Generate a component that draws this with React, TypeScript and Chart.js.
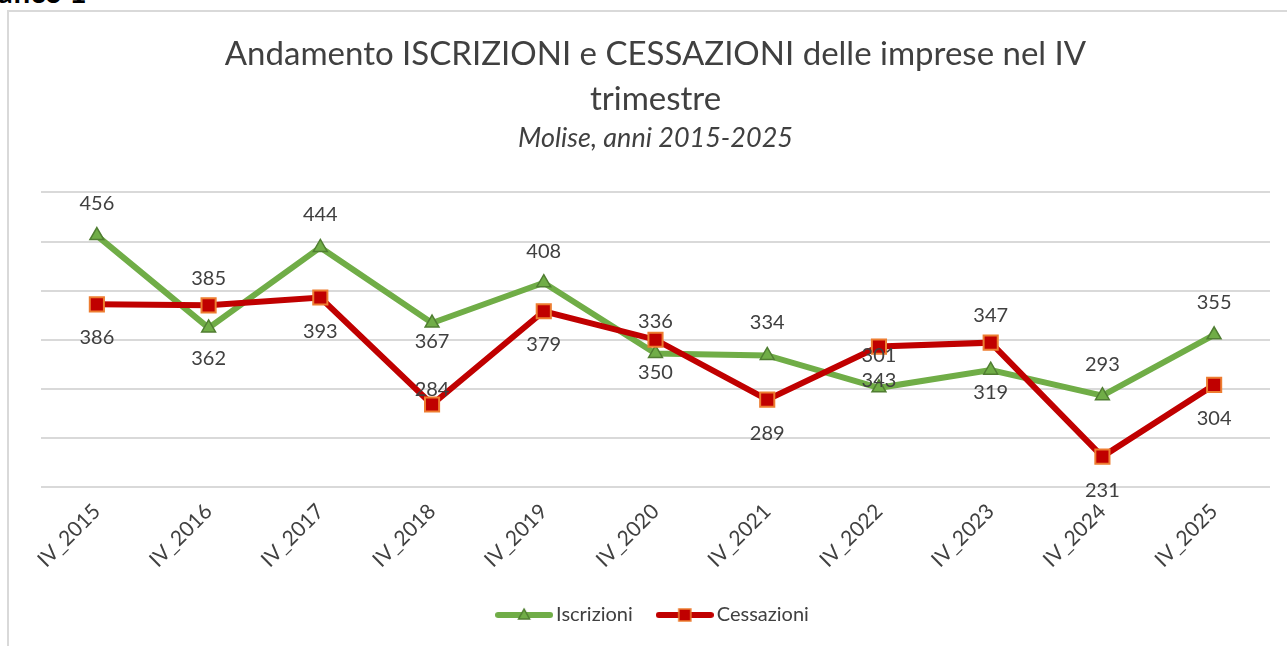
import React, { useEffect, useRef } from "react";
import { Chart, registerables } from "chart.js";

Chart.register(...registerables);

const categories = [
  "IV_2015", "IV_2016", "IV_2017", "IV_2018", "IV_2019", "IV_2020",
  "IV_2021", "IV_2022", "IV_2023", "IV_2024", "IV_2025",
];
const iscrizioni = [456, 362, 444, 367, 408, 336, 334, 301, 319, 293, 355];
const cessazioni = [386, 385, 393, 284, 379, 350, 289, 343, 347, 231, 304];

const yMin = 200;
const yMax = 500;
const yStep = 50;

// label placement (px from marker centre, negative = above)
const iscrizioniLabelOffset = [-32, 31, -33, 19, -31, -32, -33, -32, 22, -31, -32];
const cessazioniLabelOffset = [33, -27, 34, -15, 33, 33, 34, 34, -27, 34, 34];

const GREEN = "#70ad47";
const GREEN_DARK = "#507e32";
const RED = "#c00000";
const ORANGE = "#ed7d31";
const TEXT = "#404040";
const FONT = "Lato, 'Open Sans', sans-serif";

function makeLegendSymbol(kind: "tri" | "sq") {
  const c = document.createElement("canvas");
  c.width = 58;
  c.height = 16;
  const ctx = c.getContext("2d")!;
  ctx.strokeStyle = kind === "tri" ? GREEN : RED;
  ctx.lineWidth = 6;
  ctx.lineCap = "round";
  ctx.beginPath();
  ctx.moveTo(3, 8);
  ctx.lineTo(55, 8);
  ctx.stroke();
  if (kind === "tri") {
    ctx.beginPath();
    ctx.moveTo(29, 2);
    ctx.lineTo(34.5, 12);
    ctx.lineTo(23.5, 12);
    ctx.closePath();
    ctx.fillStyle = GREEN;
    ctx.fill();
    ctx.strokeStyle = GREEN_DARK;
    ctx.lineWidth = 1.5;
    ctx.lineCap = "butt";
    ctx.stroke();
  } else {
    ctx.fillStyle = RED;
    ctx.fillRect(23, 2, 12, 12);
    ctx.strokeStyle = ORANGE;
    ctx.lineWidth = 1.5;
    ctx.strokeRect(23, 2, 12, 12);
  }
  return c;
}

const valueLabels = {
  id: "valueLabels",
  afterDatasetsDraw(chart: any) {
    const ctx = chart.ctx;
    const offsets = [iscrizioniLabelOffset, cessazioniLabelOffset];
    ctx.save();
    ctx.font = `20px ${FONT}`;
    ctx.fillStyle = TEXT;
    ctx.textAlign = "center";
    ctx.textBaseline = "middle";
    chart.data.datasets.forEach((ds: any, di: number) => {
      const meta = chart.getDatasetMeta(di);
      meta.data.forEach((pt: any, i: number) => {
        ctx.fillText(String(ds.data[i]), pt.x, pt.y + offsets[di][i]);
      });
    });
    ctx.restore();
  },
};

export default function App() {
  const ref = useRef<HTMLCanvasElement | null>(null);

  useEffect(() => {
    if (!ref.current) return;
    const symbols = [makeLegendSymbol("tri"), makeLegendSymbol("sq")];
    const chart = new Chart(ref.current, {
      type: "line",
      data: {
        labels: categories,
        datasets: [
          {
            label: "Iscrizioni",
            data: iscrizioni,
            borderColor: GREEN,
            backgroundColor: GREEN,
            borderWidth: 6,
            pointStyle: "triangle",
            pointRadius: 8,
            pointBackgroundColor: GREEN,
            pointBorderColor: GREEN_DARK,
            pointBorderWidth: 1.5,
            tension: 0,
            order: 1,
          },
          {
            label: "Cessazioni",
            data: cessazioni,
            borderColor: RED,
            backgroundColor: RED,
            borderWidth: 6,
            pointStyle: "rect",
            pointRadius: 10,
            pointBackgroundColor: RED,
            pointBorderColor: ORANGE,
            pointBorderWidth: 2,
            tension: 0,
            order: 0,
          },
        ],
      },
      options: {
        animation: false,
        responsive: false,
        devicePixelRatio: 1,
        layout: { padding: { left: 41, right: 38, top: 0, bottom: 11 } },
        scales: {
          x: {
            offset: true,
            grid: { display: false, drawTicks: false, offset: true },
            border: { display: false },
            ticks: {
              autoSkip: false,
              maxRotation: 45,
              minRotation: 45,
              padding: 12,
              color: TEXT,
              font: { family: FONT, size: 21 },
            },
            afterFit: (s: any) => {
              s.height = 88;
            },
          },
          y: {
            min: yMin,
            max: yMax,
            ticks: { display: false, stepSize: yStep },
            grid: { color: "#d9d9d9", lineWidth: 2, drawTicks: false },
            border: { display: false },
          },
        },
        plugins: {
          title: {
            display: true,
            text: ["Andamento ISCRIZIONI e CESSAZIONI delle imprese nel IV", "trimestre"],
            color: TEXT,
            font: { family: FONT, size: 33, weight: "normal", lineHeight: 45 / 33 },
            padding: { top: 32, bottom: 0 },
          },
          subtitle: {
            display: true,
            text: "Molise, anni 2015-2025",
            color: TEXT,
            font: { family: FONT, size: 27, style: "italic", lineHeight: 1.2 },
            padding: { top: 0, bottom: 38 },
          },
          legend: {
            position: "bottom",
            labels: {
              usePointStyle: true,
              pointStyleWidth: 44,
              boxHeight: 14,
              padding: 30,
              color: TEXT,
              font: { family: FONT, size: 20 },
              generateLabels: (c: any) =>
                c.data.datasets.map((ds: any, i: number) => ({
                  text: ds.label,
                  fillStyle: ds.borderColor,
                  strokeStyle: ds.borderColor,
                  lineWidth: 0,
                  pointStyle: symbols[i],
                  datasetIndex: i,
                  hidden: false,
                  fontColor: TEXT,
                })),
            },
          },
          tooltip: { enabled: false },
        },
      },
      plugins: [valueLabels],
    } as any);
    return () => chart.destroy();
  }, []);

  return (
    <div
      style={{
        position: "fixed",
        left: 0,
        top: 0,
        width: 1287,
        height: 646,
        overflow: "hidden",
        background: "#ffffff",
      }}
    >
      <div
        style={{
          position: "absolute",
          left: -35,
          top: -24,
          fontFamily: FONT,
          fontWeight: "bold",
          fontSize: 30,
          lineHeight: "30px",
          color: "#000",
          whiteSpace: "nowrap",
        }}
      >
        Grafico 1
      </div>
      <div
        style={{
          position: "absolute",
          left: 7,
          top: 10,
          width: 2000,
          height: 2000,
          borderLeft: "2px solid #d9d9d9",
          borderTop: "2px solid #d9d9d9",
        }}
      />
      <canvas
        ref={ref}
        width={1308}
        height={646}
        style={{ position: "absolute", left: 0, top: 0, width: 1308, height: 646 }}
      />
    </div>
  );
}
